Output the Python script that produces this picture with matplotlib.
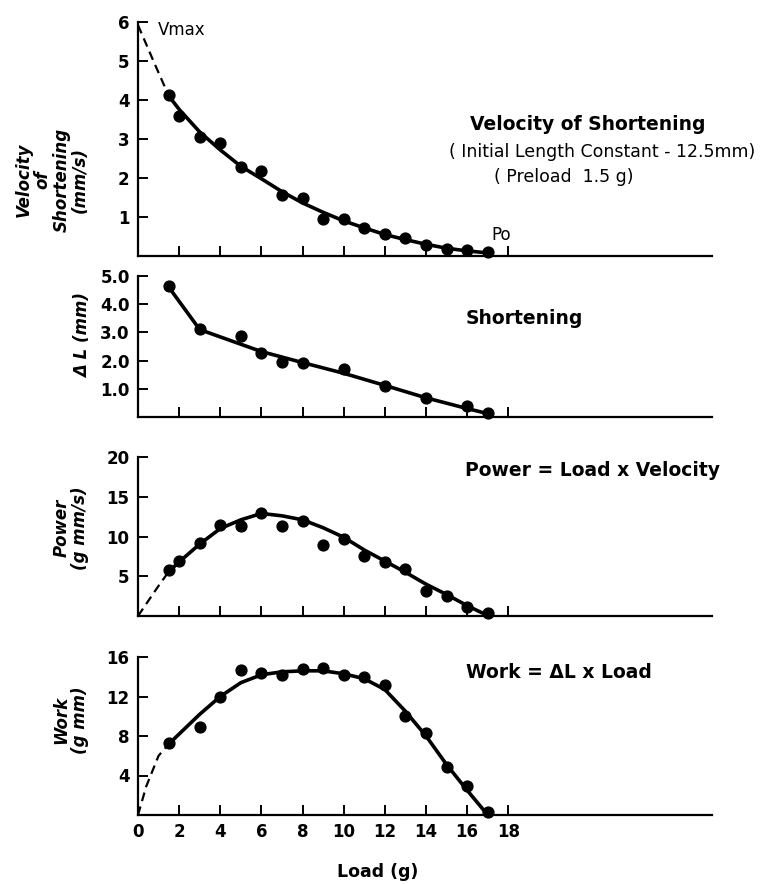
import matplotlib
matplotlib.use("Agg")
import matplotlib.pyplot as plt

plt.rcParams['font.family'] = ['DejaVu Sans']

# measured points
load = [1.5, 2, 3, 4, 5, 6, 7, 8, 9, 10, 11, 12, 13, 14, 15, 16, 17]
velocity = [4.13, 3.6, 3.05, 2.9, 2.29, 2.18, 1.57, 1.49, 0.94, 0.95, 0.73, 0.56, 0.47, 0.28, 0.19, 0.16, 0.09]
power = [5.8, 6.9, 9.2, 11.4, 11.3, 13.0, 11.3, 11.9, 8.9, 9.7, 7.5, 6.8, 5.9, 3.1, 2.5, 1.1, 0.4]

short_load = [1.5, 3, 5, 6, 7, 8, 10, 12, 14, 16, 17]
shortening = [4.64, 3.11, 2.87, 2.28, 1.96, 1.9, 1.7, 1.11, 0.68, 0.39, 0.15]

work_load = [1.5, 3, 4, 5, 6, 7, 8, 9, 10, 11, 12, 13, 14, 15, 16, 17]
work = [7.3, 8.9, 11.9, 14.7, 14.4, 14.2, 14.8, 14.9, 14.2, 14.0, 13.2, 10.0, 8.3, 4.9, 2.9, 0.3]

# hand-drawn fitted curves
fit_load = [1.5, 2, 3, 4, 5, 6, 7, 8, 9, 10, 11, 12, 13, 14, 15, 16, 17]
velocity_fit = [4.1, 3.76, 3.18, 2.72, 2.3, 1.98, 1.65, 1.36, 1.12, 0.9, 0.72, 0.55, 0.42, 0.3, 0.2, 0.13, 0.08]
power_fit = [5.6, 6.8, 9.05, 11.0, 12.1, 12.9, 12.6, 12.1, 11.1, 9.9, 8.3, 6.9, 5.5, 4.0, 2.7, 1.3, 0.05]
work_fit = [7.2, 8.2, 10.2, 12.0, 13.4, 14.2, 14.5, 14.6, 14.6, 14.3, 13.8, 12.7, 10.5, 8.0, 5.1, 2.5, 0.0]

short_fit_load = [1.5, 3, 6, 8, 10, 12, 14, 16, 17]
short_fit = [4.6, 3.1, 2.32, 1.93, 1.55, 1.12, 0.68, 0.3, 0.12]

# dashed extrapolations to zero load
vel_dash_load = [0, 0.75, 1.5]
vel_dash = [5.92, 5.0, 4.1]
pow_dash_load = [0, 0.5, 1.0, 1.5]
pow_dash = [0, 1.9, 3.8, 5.6]
work_dash_load = [0, 0.4, 1.0, 1.5]
work_dash = [0, 2.9, 6.0, 7.2]

x_ticks = [0, 2, 4, 6, 8, 10, 12, 14, 16, 18]

W, H = 775, 884
fig = plt.figure(figsize=(W / 100, H / 100), dpi=100)


def box(top, bottom, left=138, right=712):
    return [left / W, 1 - bottom / H, (right - left) / W, (bottom - top) / H]


def ftext(x, y, s, **kw):
    fig.text(x / W, 1 - y / H, s, **kw)


ax1 = fig.add_axes(box(22, 256))
ax2 = fig.add_axes(box(276, 417))
ax3 = fig.add_axes(box(457, 616))
ax4 = fig.add_axes(box(657, 815))

dot = dict(marker='o', ms=7.8, color='black', ls='none', clip_on=False, zorder=3)
solid = dict(color='black', lw=2.6, solid_capstyle='round', clip_on=False)
dashed = dict(color='black', lw=1.6, ls=(0, (4, 2.5)), clip_on=False)

ax1.plot(fit_load, velocity_fit, **solid)
ax1.plot(vel_dash_load, vel_dash, **dashed)
ax1.plot(load, velocity, **dot)
ax1.set_ylim(0, 6)
ax1.set_yticks([1, 2, 3, 4, 5, 6])
ax1.set_yticklabels(['1', '2', '3', '4', '5', '6'])

ax2.plot(short_fit_load, short_fit, **solid)
ax2.plot(short_load, shortening, **dot)
ax2.set_ylim(0, 5)
ax2.set_yticks([1, 2, 3, 4, 5])
ax2.set_yticklabels(['1.0', '2.0', '3.0', '4.0', '5.0'])

ax3.plot(fit_load, power_fit, **solid)
ax3.plot(pow_dash_load, pow_dash, **dashed)
ax3.plot(load, power, **dot)
ax3.set_ylim(0, 20)
ax3.set_yticks([5, 10, 15, 20])

ax4.plot(fit_load, work_fit, **solid)
ax4.plot(work_dash_load, work_dash, **dashed)
ax4.plot(work_load, work, **dot)
ax4.set_ylim(0, 16)
ax4.set_yticks([4, 8, 12, 16])

for ax in (ax1, ax2, ax3, ax4):
    ax.set_xlim(0, 27.9)
    ax.set_xticks(x_ticks)
    ax.spines['top'].set_visible(False)
    ax.spines['right'].set_visible(False)
    ax.spines['left'].set_linewidth(1.6)
    ax.spines['bottom'].set_linewidth(1.6)
    ax.tick_params(direction='in', length=7, width=1.4, pad=6)
    for lab in ax.get_yticklabels():
        lab.set_fontsize(12)
        lab.set_fontweight('bold')
    ax.patch.set_visible(False)

for ax in (ax1, ax2, ax3):
    ax.set_xticklabels([])
ax4.set_xticklabels([str(t) for t in x_ticks], fontsize=12, fontweight='bold')

# y axis labels
ylab = dict(rotation=90, ha='center', va='center', fontsize=12,
            fontweight='bold', style='italic', linespacing=1.05)
ftext(52, 180, "Velocity\nof\nShortening\n(mm/s)", **ylab)
ftext(83, 335, "\u0394 L (mm)", **ylab)
ftext(71, 528, "Power\n(g mm/s)", **ylab)
ftext(71, 720, "Work\n(g mm)", **ylab)
ftext(378, 872, "Load (g)", ha='center', va='center', fontsize=12.5, fontweight='bold')

# annotations
ftext(158, 30, "Vmax", ha='left', va='center', fontsize=12)
ftext(501, 235, "Po", ha='center', va='center', fontsize=12)
ftext(588, 125, "Velocity of Shortening", ha='center', va='center', fontsize=13.5, fontweight='bold')
ftext(602, 152, "( Initial Length Constant - 12.5mm)", ha='center', va='center', fontsize=12.5)
ftext(564, 177, "( Preload  1.5 g)", ha='center', va='center', fontsize=12.5)
ftext(466, 318, "Shortening", ha='left', va='center', fontsize=13.5, fontweight='bold')
ftext(465, 470, "Power = Load x Velocity", ha='left', va='center', fontsize=13.5, fontweight='bold')
ftext(466, 672, "Work = \u0394L x Load", ha='left', va='center', fontsize=13.5, fontweight='bold')

fig.savefig("out.png", dpi=100)
